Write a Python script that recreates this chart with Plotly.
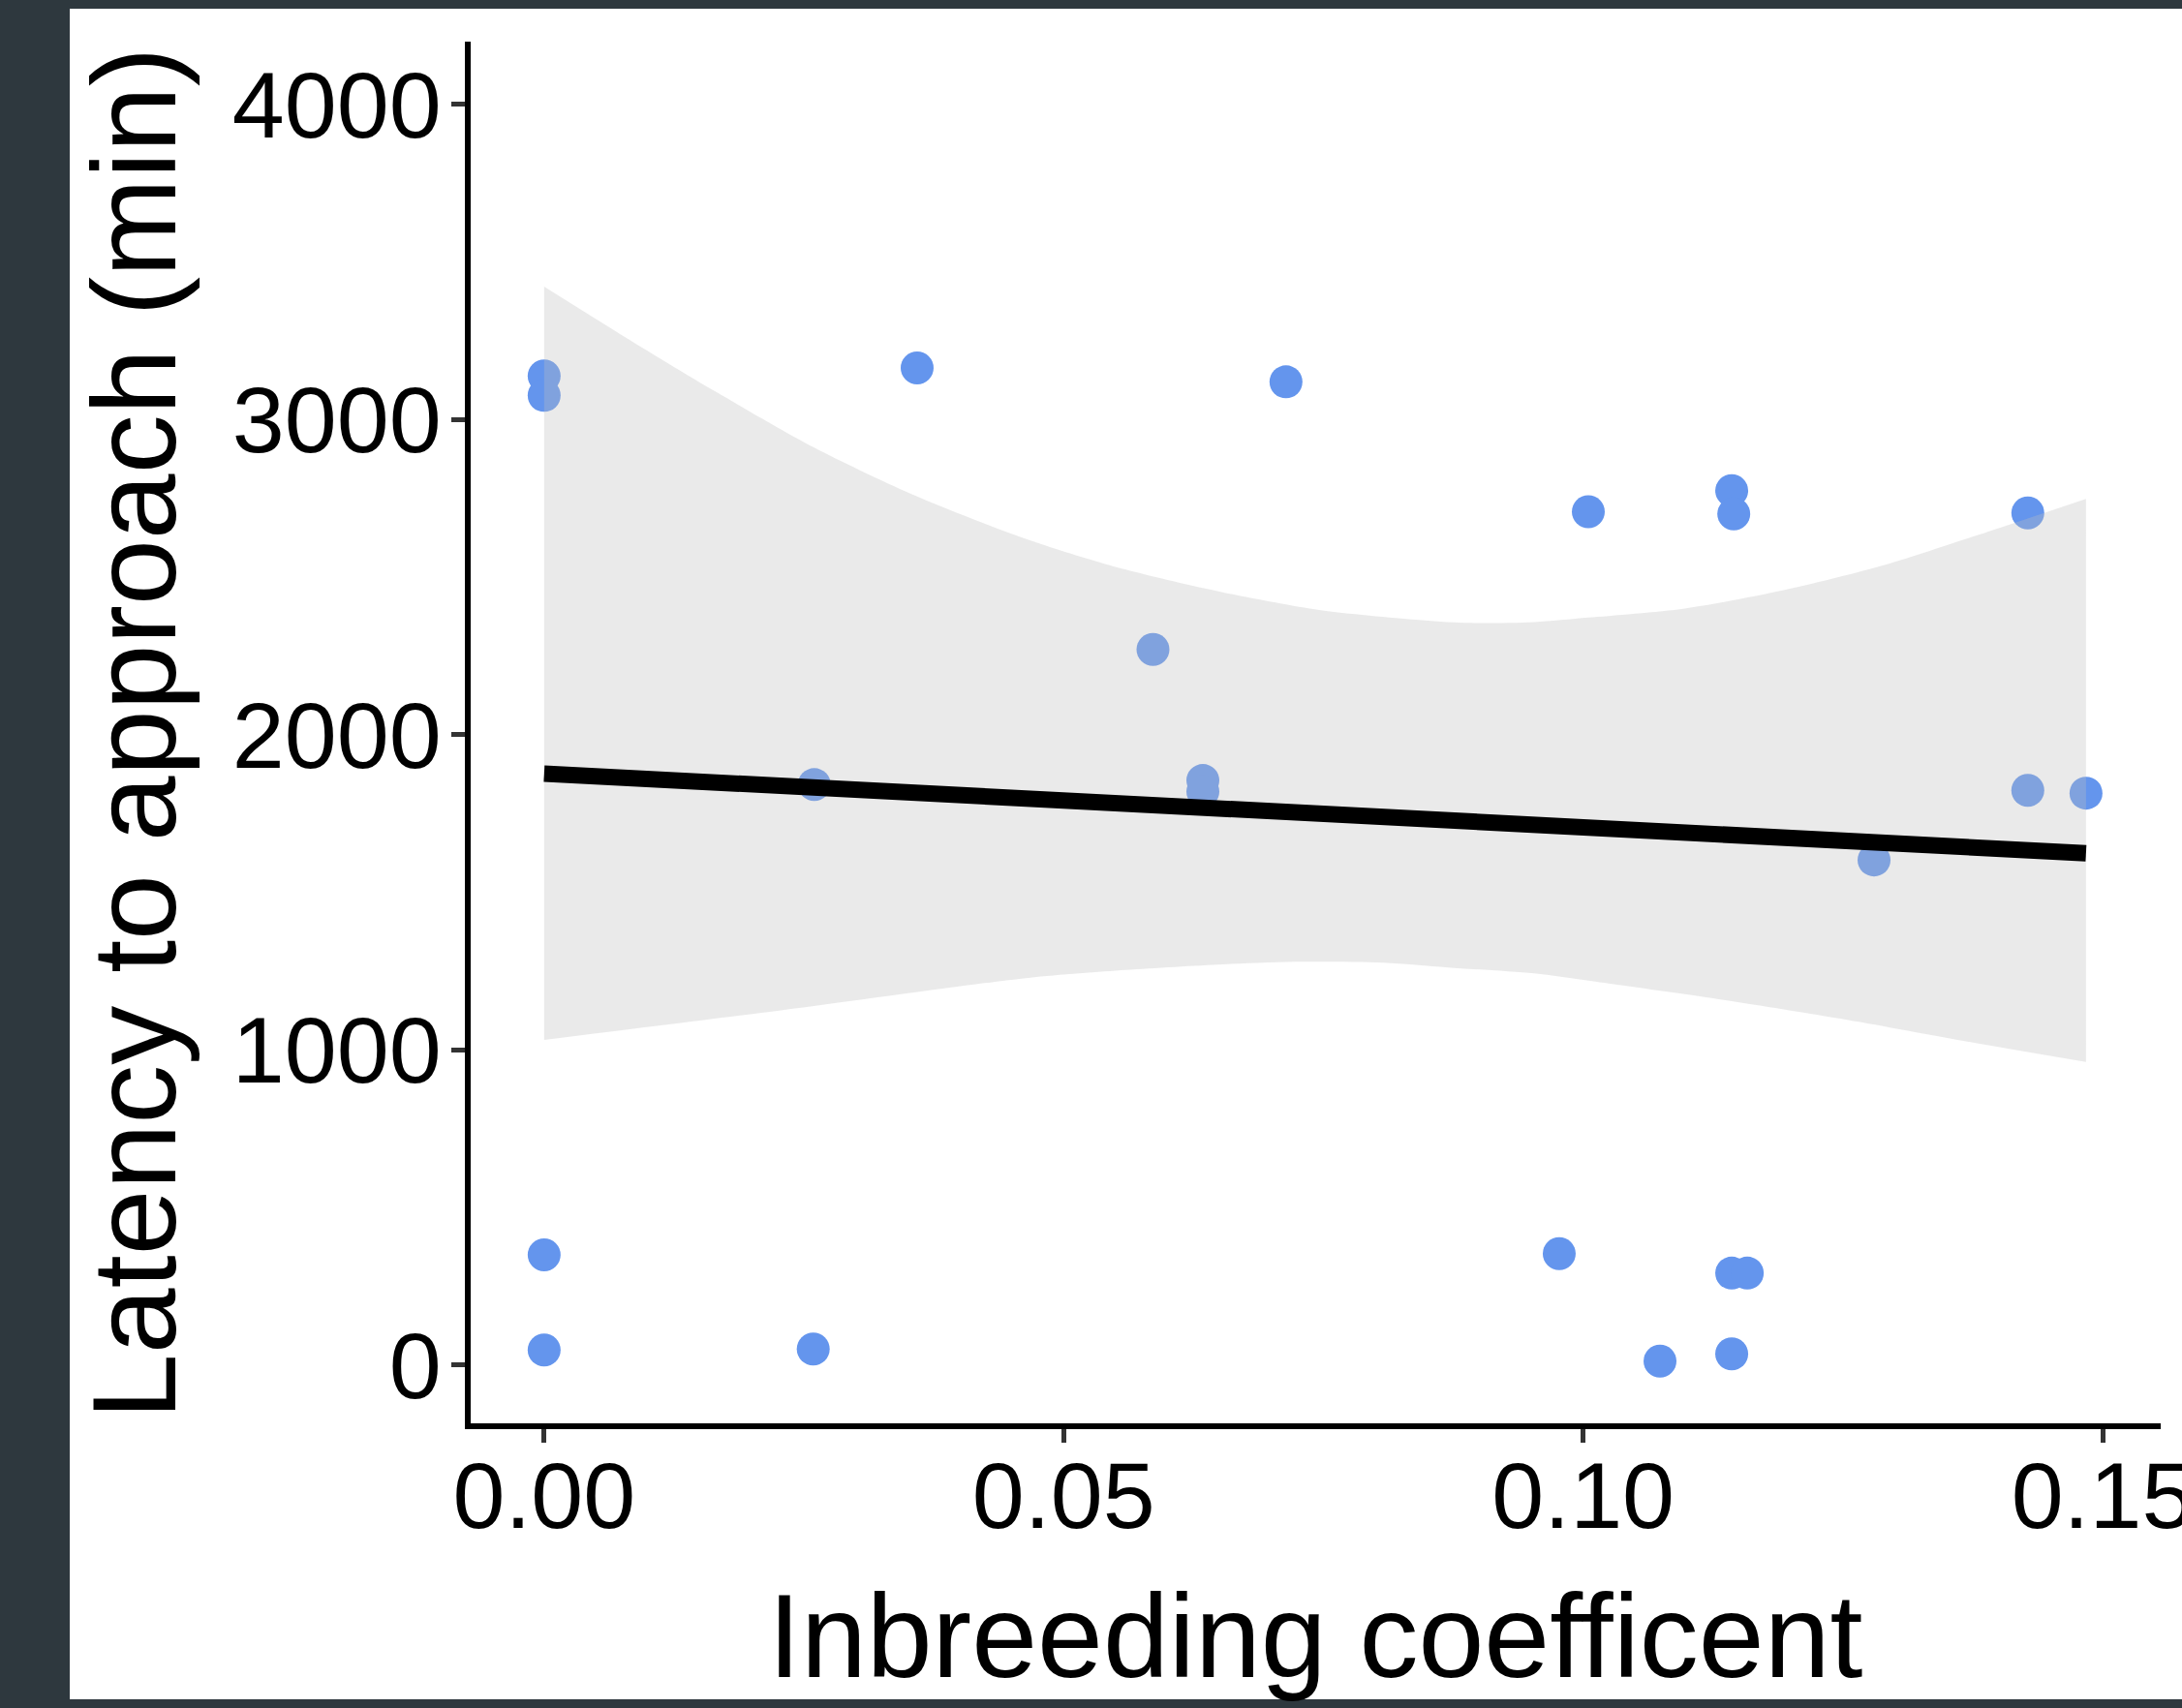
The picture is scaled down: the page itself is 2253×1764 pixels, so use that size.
import plotly.graph_objects as go

# ---------------- data ----------------
inbreeding = [0, 0, 0, 0, 0.0260, 0.0259, 0.0359, 0.0586, 0.0634, 0.0634,
              0.0714, 0.1005, 0.0977, 0.1074, 0.1143, 0.1145, 0.1143, 0.1158,
              0.1143, 0.1280, 0.1428, 0.1428, 0.1484]
latency = [3138, 3076, 349, 47, 1841, 50, 3163, 2270, 1854, 1819,
           3119, 2707, 353, 12, 2774, 2700, 291, 291,
           35, 1602, 2703, 1823, 1814]

# fitted line (end points)
fit_x = [0.0, 0.1484]
fit_y = [1876, 1623]

# confidence band edges
upper_x = [0.0, 0.0073, 0.0166, 0.0259, 0.0353, 0.0466, 0.0560, 0.0653,
           0.0746, 0.0839, 0.0886, 0.0953, 0.1005, 0.1098, 0.1192, 0.1285,
           0.1378, 0.1484]
upper_y = [3421, 3271, 3086, 2912, 2764, 2618, 2523, 2451,
           2395, 2364, 2354, 2357, 2371, 2400, 2457, 2533,
           2631, 2748]
lower_x = [0.0, 0.0228, 0.0466, 0.0560, 0.0653, 0.0730, 0.0808, 0.0870,
           0.0953, 0.1005, 0.1129, 0.1254, 0.1378, 0.1484]
lower_y = [1031, 1125, 1228, 1253, 1271, 1279, 1276, 1261,
           1242, 1219, 1161, 1095, 1021, 961]

x_ticks = [0.00, 0.05, 0.10, 0.15]
x_tick_text = ["0.00", "0.05", "0.10", "0.15"]
y_ticks = [0, 1000, 2000, 3000, 4000]
y_tick_text = ["0", "1000", "2000", "3000", "4000"]

# ---------------- layout geometry (pixels) ----------------
W, H = 2253, 1764
L, R, T, B = 486, 2231, 43, 1470
PW, PH = R - L, B - T

def px_x(p):
    return (p - L) / PW

def px_y(p):
    return (B - p) / PH

FONT = "Liberation Sans, Arial, Helvetica, sans-serif"
DARK = "#2e383e"

fig = go.Figure()

fig.add_trace(go.Scatter(
    x=inbreeding, y=latency, mode="markers",
    marker=dict(size=34, color="#6495ED", line=dict(width=0)),
    hoverinfo="skip", showlegend=False))

# confidence band: lower edge, then upper edge filled down to it
fig.add_trace(go.Scatter(
    x=lower_x, y=lower_y, mode="lines",
    line=dict(width=0, shape="spline", smoothing=0.8),
    hoverinfo="skip", showlegend=False))
fig.add_trace(go.Scatter(
    x=upper_x, y=upper_y, mode="lines", fill="tonexty",
    fillcolor="rgba(190,190,190,0.32)",
    line=dict(width=0, shape="spline", smoothing=0.8),
    hoverinfo="skip", showlegend=False))

fig.add_trace(go.Scatter(
    x=fit_x, y=fit_y, mode="lines",
    line=dict(color="black", width=17),
    hoverinfo="skip", showlegend=False))

# white panel on dark frame
fig.add_shape(type="rect", xref="paper", yref="paper", layer="below",
              x0=px_x(72), x1=px_x(W + 10), y0=px_y(1755), y1=px_y(9),
              fillcolor="white", line=dict(width=0))

fig.update_xaxes(
    range=[-0.00707, 0.15559], tickvals=x_ticks, ticktext=x_tick_text,
    showgrid=False, zeroline=False, showline=True, linecolor="black",
    linewidth=6, ticks="outside", ticklen=14, tickwidth=5, tickcolor="#333333",
    ticklabeloverflow="allow", ticklabelstandoff=-28,
    tickfont=dict(family=FONT, size=97, color="black"))
fig.update_yaxes(
    range=[-185.6, 4198.5], tickvals=y_ticks, ticktext=y_tick_text,
    showgrid=False, zeroline=False, showline=True, linecolor="black",
    linewidth=6, ticks="outside", ticklen=14, tickwidth=5, tickcolor="#333333",
    ticklabeloverflow="allow", ticklabelstandoff=-9,
    tickfont=dict(family=FONT, size=97, color="black"))

fig.add_annotation(text="Inbreeding coefficent", xref="paper", yref="paper",
                   x=px_x(1358), y=px_y(1690), xanchor="center", yanchor="middle",
                   showarrow=False, font=dict(family=FONT, size=122, color="black"))
fig.add_annotation(text="Latency to approach (min)", xref="paper", yref="paper",
                   x=px_x(139), y=px_y(758), xanchor="center", yanchor="middle",
                   textangle=-90, showarrow=False,
                   font=dict(family=FONT, size=122, color="black"))

fig.update_layout(
    width=W, height=H,
    margin=dict(l=L, r=W - R, t=T, b=H - B, autoexpand=False),
    paper_bgcolor=DARK, plot_bgcolor="rgba(0,0,0,0)",
    showlegend=False)

fig.write_html("out.html")
